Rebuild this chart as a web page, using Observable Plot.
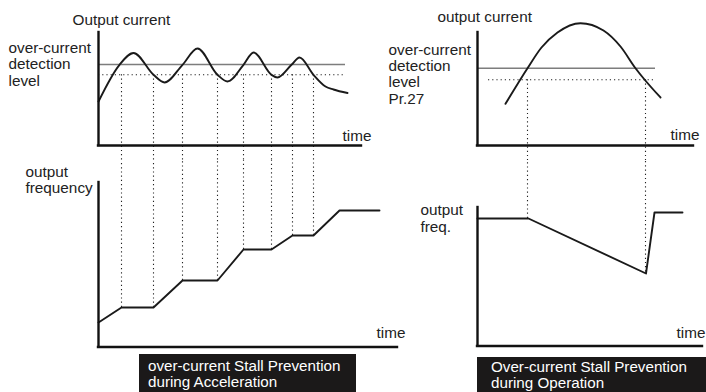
<!DOCTYPE html>
<html>
<head>
<meta charset="utf-8">
<script src="https://cdn.jsdelivr.net/npm/d3@7"></script>
<script src="https://cdn.jsdelivr.net/npm/@observablehq/plot@0.6"></script>
<style>
  html, body { margin: 0; padding: 0; background: #fff; }
  #wrap { position: relative; width: 706px; height: 392px; overflow: hidden; font-family: "Liberation Sans", Arial, sans-serif; }
  .cap { position: absolute; background: #1b1919; color: #fff; font-size: 15.2px; line-height: 15.5px; box-sizing: border-box; white-space: nowrap; }
</style>
</head>
<body>
<div id="wrap"></div>
<script>
// ---------- Acceleration case (left column) ----------
// output current (arbitrary units) vs time (arbitrary units)
const accelCurrentTime  = [0, 2.1, 3.5, 5.5, 6.6, 8.4, 9.9, 11.9, 12.9, 14.5, 15.5, 17.3, 17.9, 19.3, 20.1, 21.5, 22.7, 23.5, 24.9];
const accelCurrentValue = [4.4, 8.07, 9.25, 7.07, 6.3, 8.07, 9.7, 7.07, 6.4, 8.07, 9.3, 7.07, 6.8, 8.07, 8.8, 7.07, 5.9, 5.6, 5.25];
const accelDetectionLevel = 8.1;   // over-current detection level
const accelReleaseLevel   = 7.07;  // dotted (release) level
const accelLevelEnd = 24.7;
// output frequency vs time
const accelFreqTime  = [0, 2.3, 5.5, 8.4, 11.9, 14.5, 17.3, 19.4, 21.5, 24.1, 28.1];
const accelFreqValue = [2.45, 3.95, 3.95, 6.65, 6.65, 9.75, 9.75, 11.15, 11.15, 13.65, 13.65];
// stall events (dotted verticals)
const accelStallTime = [2.3, 5.5, 8.4, 11.9, 14.5, 17.3, 19.4, 21.5];
const accelStallFreq = [3.95, 3.95, 6.65, 6.65, 9.75, 9.75, 11.15, 11.15];

// ---------- Operation case (right column) ----------
const opCurrentTime  = [2.8, 5.0, 6.4, 8.0, 10.3, 12.6, 14.3, 15.8, 16.7, 18.3];
const opCurrentValue = [4.17, 7.73, 9.8, 11.3, 12.23, 11.5, 9.9, 7.73, 6.6, 4.8];
const opDetectionLevel = 7.73;
const opReleaseLevel   = 6.57;
const opLevelEnd = 17.8;
const opReleaseStart = 1.1;
const opReleaseEnd = 17.6;
const opFreqTime  = [0, 5.1, 16.85, 17.7, 20.5];
const opFreqValue = [12.75, 12.75, 7.25, 13.35, 13.35];
const opStallTime = [5.0, 16.8];
const opStallFreq = [12.75, 7.4];

// ---------- text ----------
const labels = {
  accelCurrent: "Output current",
  accelLevel: "over-current\ndetection\nlevel",
  accelFreq: "output\nfrequency",
  opCurrent: "output current",
  opLevel: "over-current\ndetection\nlevel\nPr.27",
  opFreq: "output\nfreq.",
  time: "time",
  captionAccel: ["over-current Stall Prevention", "during Acceleration"],
  captionOp: ["Over-current Stall Prevention", "during Operation"]
};

// ---------- styling ----------
const INK = "#1a1a1a";
const FONT = "Liberation Sans, Arial, sans-serif";
const FS = 15.3;
const dotted = {stroke: "#222", strokeWidth: 1.1, strokeDasharray: "1.2,3"};
const axisStyle = {stroke: "#111", strokeWidth: 2.4, strokeLinecap: "square"};
const lineStyle = {stroke: INK, strokeWidth: 1.9, strokeLinejoin: "round"};
const levelStyle = {stroke: "#7d7d7d", strokeWidth: 1.6};
const textStyle = {fill: "#222", fontSize: FS, fontFamily: FONT, textAnchor: "start", lineAnchor: "bottom", lineHeight: 1.05};

const pts = (xs, ys) => xs.map((x, i) => ({x, y: ys[i]}));

function panel(opts, marks) {
  return Plot.plot({
    width: 706, height: 392,
    margin: 0,
    x: {domain: opts.xDomain, range: opts.xRange, axis: null},
    y: {domain: opts.yDomain, range: opts.yRange, axis: null},
    style: {background: "transparent", position: "absolute", left: "0px", top: "0px", overflow: "visible", fontFamily: FONT},
    marks
  });
}

const wrap = document.getElementById("wrap");

// top-left: output current during acceleration
wrap.appendChild(panel({xDomain: [0, 30], xRange: [98, 398], yDomain: [0, 12], yRange: [145, 25]}, [
  Plot.ruleY([accelDetectionLevel], {x1: 0, x2: accelLevelEnd, ...levelStyle}),
  Plot.ruleY([accelReleaseLevel], {x1: 0, x2: accelLevelEnd, ...dotted}),
  Plot.ruleX(accelStallTime, {y1: accelReleaseLevel, y2: -1.5, ...dotted}),
  Plot.line(pts(accelCurrentTime, accelCurrentValue), {x: "x", y: "y", curve: "monotone-x", ...lineStyle}),
  Plot.ruleX([0], {y1: 0, y2: 11.3, ...axisStyle}),
  Plot.ruleY([0], {x1: 0, x2: 26.3, ...axisStyle}),
  Plot.text([labels.accelCurrent], {x: -2.6, y: 12.1, text: d => d, ...textStyle}),
  Plot.text([labels.accelLevel], {x: -9.0, y: 6.0, text: d => d, ...textStyle}),
  Plot.text([labels.time], {x: 24.4, y: 0.5, text: d => d, ...textStyle})
]));

// bottom-left: output frequency during acceleration
wrap.appendChild(panel({xDomain: [0, 30], xRange: [98, 398], yDomain: [0, 18], yRange: [346.5, 166.5]}, [
  Plot.ruleX(accelStallTime, {y1: accelStallFreq, y2: 18.65, ...dotted}),
  Plot.line(pts(accelFreqTime, accelFreqValue), {x: "x", y: "y", ...lineStyle}),
  Plot.ruleX([0], {y1: 0, y2: 16.45, ...axisStyle}),
  Plot.ruleY([0], {x1: 0, x2: 29.9, ...axisStyle}),
  Plot.text([labels.accelFreq], {x: -7.3, y: 15.45, text: d => d, ...textStyle, lineHeight: 1.0}),
  Plot.text([labels.time], {x: 27.8, y: 0.95, text: d => d, ...textStyle})
]));

// top-right: output current during operation
wrap.appendChild(panel({xDomain: [0, 23], xRange: [477, 707], yDomain: [0, 12], yRange: [145, 25]}, [
  Plot.ruleY([opDetectionLevel], {x1: 0, x2: opLevelEnd, ...levelStyle}),
  Plot.ruleY([opReleaseLevel], {x1: opReleaseStart, x2: opReleaseEnd, ...dotted}),
  Plot.ruleX(opStallTime, {y1: opReleaseLevel, y2: -1.5, ...dotted}),
  Plot.line(pts(opCurrentTime, opCurrentValue), {x: "x", y: "y", curve: "monotone-x", ...lineStyle}),
  Plot.ruleX([0], {y1: 0, y2: 11.3, ...axisStyle}),
  Plot.ruleY([0], {x1: 0, x2: 21.6, ...axisStyle}),
  Plot.text([labels.opCurrent], {x: -4.0, y: 12.4, text: d => d, ...textStyle}),
  Plot.text([labels.opLevel], {x: -8.9, y: 4.2, text: d => d, ...textStyle}),
  Plot.text([labels.time], {x: 19.3, y: 0.6, text: d => d, ...textStyle})
]));

// bottom-right: output frequency during operation
wrap.appendChild(panel({xDomain: [0, 23], xRange: [477, 707], yDomain: [0, 14], yRange: [345.5, 205.5]}, [
  Plot.ruleX(opStallTime, {y1: opStallFreq, y2: 18.55, ...dotted}),
  Plot.line(pts(opFreqTime, opFreqValue), {x: "x", y: "y", ...lineStyle}),
  Plot.ruleX([0], {y1: 0, y2: 13.85, ...axisStyle}),
  Plot.ruleY([0], {x1: 0, x2: 22.5, ...axisStyle}),
  Plot.text([labels.opFreq], {x: -5.7, y: 11.45, text: d => d, ...textStyle}),
  Plot.text([labels.time], {x: 19.9, y: 0.85, text: d => d, ...textStyle})
]));

// captions
function caption(lines, left, top, width, padLeft, padTop) {
  const d = document.createElement("div");
  d.className = "cap";
  Object.assign(d.style, {left: left + "px", top: top + "px", width: width + "px", height: (392 - top + 4) + "px", paddingLeft: padLeft + "px", paddingTop: padTop + "px"});
  d.innerHTML = lines.join("<br>");
  wrap.appendChild(d);
}
caption(labels.captionAccel, 139, 354, 217, 9, 4);
caption(labels.captionOp, 477, 357, 232, 14, 2);
</script>
</body>
</html>
